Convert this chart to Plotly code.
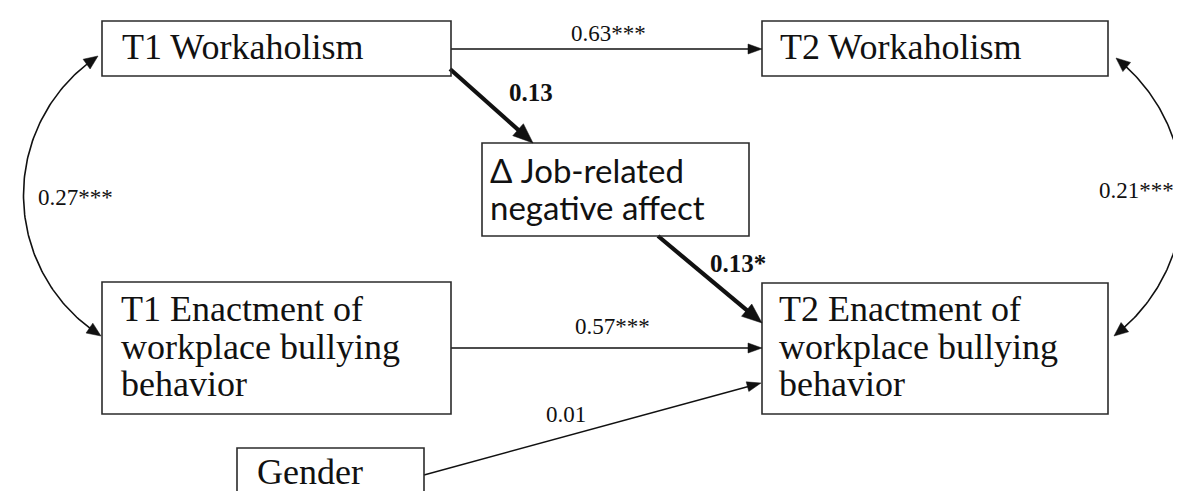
import numpy as np
import plotly.graph_objects as go

# ---------------- data ----------------
node_names = ["T1W", "T2W", "NA", "T1B", "T2B", "GEN"]
node_labels = [
    "T1 Workaholism",
    "T2 Workaholism",
    "Δ Job-related<br>negative affect",
    "T1 Enactment of<br>workplace bullying<br>behavior",
    "T2 Enactment of<br>workplace bullying<br>behavior",
    "Gender",
]
path_from = ["T1W", "T1W", "NA", "T1B", "GEN"]
path_to = ["T2W", "NA", "T2B", "T2B", "T2B"]
path_coef = ["0.63***", "0.13", "0.13*", "0.57***", "0.01"]
path_bold = [False, True, True, False, False]
corr_pairs = [("T1W", "T1B"), ("T2W", "T2B")]
corr_coef = ["0.27***", "0.21***"]

# ---------------- layout (pixel space) ----------------
W, H = 1181, 491
box = {  # x0, y0, x1, y1
    "T1W": (94, 13, 443, 68),
    "T2W": (754, 13, 1100, 68),
    "NA": (474, 135, 741, 228),
    "T1B": (94, 274, 443, 406),
    "T2B": (754, 275, 1100, 406),
    "GEN": (229, 440, 416, 520),
}
text_left = {"T1W": 112, "T2W": 770, "NA": 480, "T1B": 111, "T2B": 769, "GEN": 247}
text_lines_y = {
    "T1W": [39], "T2W": [39], "NA": [162, 199],
    "T1B": [301, 339, 376], "T2B": [301, 339, 376], "GEN": [464],
}
sans_nodes = {"NA"}
# arrow start / end points for each path
path_pts = [
    ((443, 41), (754, 41)),
    ((442, 61), (525, 135)),
    ((650, 228), (754, 315)),
    ((443, 340), (754, 340)),
    ((416, 467), (753, 375)),
]
label_pos = [(600, 25), (523, 84), (730, 255), (604, 318), (558, 406)]
corr_pts = [((90, 48), (93, 328), -1, 76), ((1108, 50), (1106, 328), 1, 68)]
corr_label_pos = [(67, 189), (1128, 182)]

SERIF = "Liberation Serif"
SANS = "Lato"
INK = "#111111"

fig = go.Figure()
shapes = []
annotations = []


def arrowhead(tip, d, L, Wd):
    d = np.asarray(d, float)
    d = d / np.linalg.norm(d)
    n = np.array([-d[1], d[0]])
    t = np.asarray(tip, float)
    b = t - L * d
    p1 = b + Wd * n
    p2 = b - Wd * n
    return dict(type="path", xref="x", yref="y",
                path=f"M {t[0]:.2f} {t[1]:.2f} L {p1[0]:.2f} {p1[1]:.2f} L {p2[0]:.2f} {p2[1]:.2f} Z",
                fillcolor=INK, line=dict(color=INK, width=0.5))


# boxes
for name in node_names:
    x0, y0, x1, y1 = box[name]
    shapes.append(dict(type="rect", xref="x", yref="y", x0=x0, y0=y0, x1=x1, y1=y1,
                       line=dict(color="#2b2b2b", width=1.6), fillcolor="rgba(0,0,0,0)"))

# node text
for name, lab in zip(node_names, node_labels):
    lines = lab.split("<br>")
    for ln, yy in zip(lines, text_lines_y[name]):
        annotations.append(dict(
            x=text_left[name], y=yy, xref="x", yref="y", text=ln, showarrow=False,
            xanchor="left", yanchor="middle",
            font=dict(family=SANS if name in sans_nodes else SERIF,
                      size=33 if name in sans_nodes else 36, color=INK)))

# straight paths
for (p0, p1), coef, bold, lp in zip(path_pts, path_coef, path_bold, label_pos):
    p0 = np.array(p0, float)
    p1 = np.array(p1, float)
    d = p1 - p0
    d = d / np.linalg.norm(d)
    L, Wd, lw = (20, 8, 4.2) if bold else (14, 5, 1.4)
    end = p1 - d * (L * 0.8)
    fig.add_trace(go.Scatter(x=[p0[0], end[0]], y=[p0[1], end[1]], mode="lines",
                             line=dict(color=INK, width=lw), hoverinfo="skip", showlegend=False))
    shapes.append(arrowhead(p1, d, L, Wd))
    annotations.append(dict(
        x=lp[0], y=lp[1], xref="x", yref="y",
        text=f"<b>{coef}</b>" if bold else coef, showarrow=False,
        xanchor="center", yanchor="middle",
        font=dict(family=SERIF, size=25 if bold else 23, color=INK)))

# curved correlations
for (p0, p1, side, sag), coef, lp in zip(corr_pts, corr_coef, corr_label_pos):
    P0 = np.array(p0, float)
    P1 = np.array(p1, float)
    c = P1 - P0
    dlen = np.linalg.norm(c)
    M = (P0 + P1) / 2
    nrm = np.array([-c[1], c[0]]) / dlen
    if np.sign(nrm[0]) != side:
        nrm = -nrm
    apex = M + sag * nrm
    R = (dlen ** 2 / 4 + sag ** 2) / (2 * sag)
    C = apex - R * nrm
    a0 = np.arctan2(P0[1] - C[1], P0[0] - C[0])
    a1 = np.arctan2(P1[1] - C[1], P1[0] - C[0])
    delta = (a1 - a0 + np.pi) % (2 * np.pi) - np.pi
    t = np.linspace(0, 1, 120)
    ang = a0 + delta * t
    xs = C[0] + R * np.cos(ang)
    ys = C[1] + R * np.sin(ang)
    keep = slice(4, -4)
    fig.add_trace(go.Scatter(x=xs[keep], y=ys[keep], mode="lines",
                             line=dict(color=INK, width=1.6), hoverinfo="skip", showlegend=False))
    d_start = np.array([xs[0] - xs[4], ys[0] - ys[4]])
    d_end = np.array([xs[-1] - xs[-5], ys[-1] - ys[-5]])
    shapes.append(arrowhead(P0, d_start, 14, 6))
    shapes.append(arrowhead(P1, d_end, 14, 6))
    annotations.append(dict(
        x=lp[0], y=lp[1], xref="x", yref="y", text=coef, showarrow=False,
        xanchor="center", yanchor="middle",
        font=dict(family=SERIF, size=23, color=INK)))

fig.update_layout(
    width=W, height=H, margin=dict(l=0, r=0, t=0, b=0),
    paper_bgcolor="white", plot_bgcolor="white",
    xaxis=dict(range=[0, W], visible=False, fixedrange=True),
    yaxis=dict(range=[H, 0], visible=False, fixedrange=True),
    shapes=shapes, annotations=annotations, showlegend=False,
)
fig.write_html("out.html")
